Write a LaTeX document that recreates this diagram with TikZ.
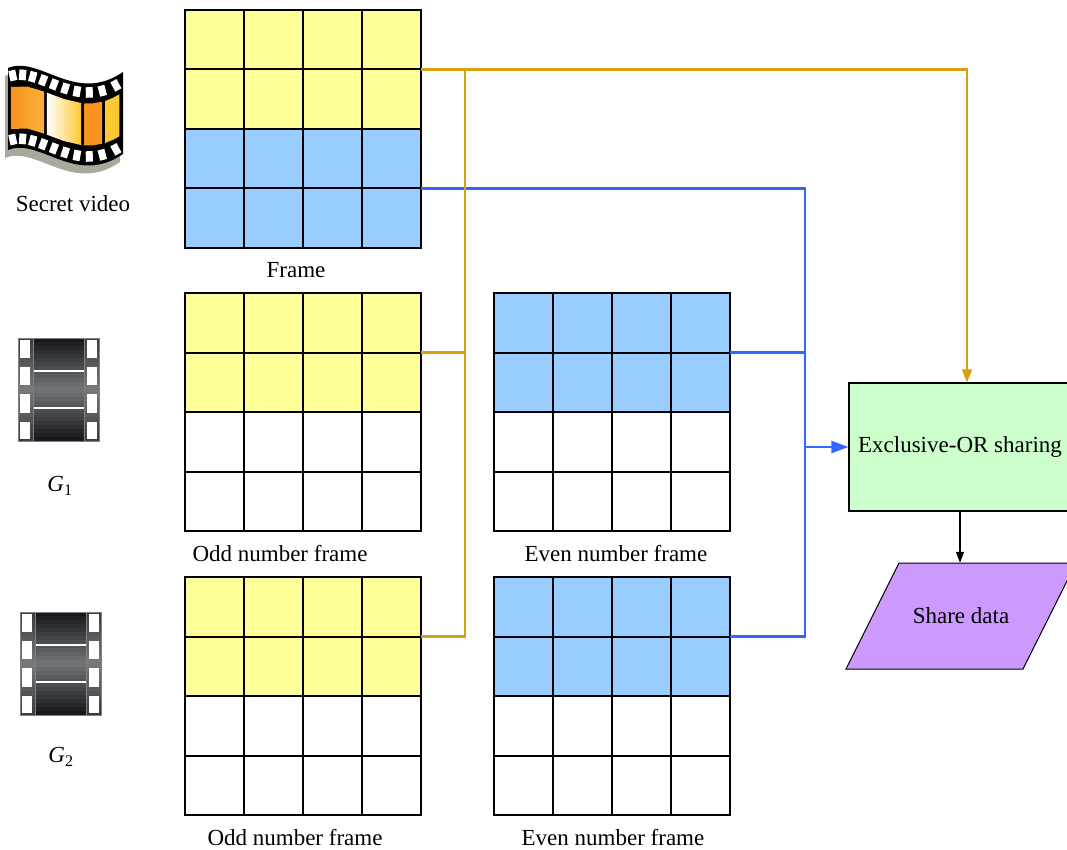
\documentclass[tikz,border=0pt]{standalone}
\usepackage{fontspec}
\setmainfont{Liberation Serif}
\usetikzlibrary{calc,arrows.meta}

\definecolor{cellyellow}{HTML}{FFFF99}
\definecolor{cellblue}{HTML}{99CCFF}
\definecolor{linkorange}{HTML}{D9A011}
\definecolor{linkblue}{HTML}{3366FF}
\definecolor{xorgreen}{HTML}{CCFFCC}
\definecolor{sharepurple}{HTML}{CC99FF}
\definecolor{iconorange}{HTML}{F7931E}
\definecolor{iconorangeL}{HTML}{FBB03B}
\definecolor{iconyellow}{HTML}{FDC830}
\definecolor{shadowgray}{HTML}{A9A99B}
\definecolor{reeldark}{HTML}{16181D}
\definecolor{reelmid}{HTML}{74777A}
\definecolor{sidedark}{HTML}{3A3B3D}
\definecolor{sidemid}{HTML}{7A7B7D}

\tikzset{
  txt/.style={font=\fontsize{23}{27}\selectfont, inner sep=0pt},
  gridframe/.style={minimum width=236pt, minimum height=238pt, inner sep=0pt, outer sep=0pt},
  gridline/.style={draw=black, line width=2pt},
  orangelink/.style={draw=linkorange, line width=2.4pt},
  bluelink/.style={draw=linkblue, line width=2.4pt},
  hole/.style={fill=white, minimum width=7pt, minimum height=10.5pt, inner sep=0pt},
}

% one 4x4 video frame: name, left x, top y, colour of upper half, colour of lower half
\newcommand\videoframe[5]{%
  \node[gridframe] (#1) at (#2+118,#3+119) {};
  \fill[#4] (#1.north west) rectangle (#1.east);
  \fill[#5] (#1.west) rectangle (#1.south east);
  \foreach \k in {1,2,3}{
    \draw[gridline] ($(#1.north west)!\k/4!(#1.north east)$) -- ($(#1.south west)!\k/4!(#1.south east)$);
    \draw[gridline] ($(#1.north west)!\k/4!(#1.south west)$) -- ($(#1.north east)!\k/4!(#1.south east)$);
  }
  \draw[gridline] (#1.north west) rectangle (#1.south east);
  \coordinate (#1-r1) at ($(#1.north east)!0.25!(#1.south east)$);
  \coordinate (#1-r3) at ($(#1.north east)!0.75!(#1.south east)$);
}

% dark film reel icon: left x, top y; the metal sheen is built from thin bands
\newcommand\reelicon[2]{%
  \begin{scope}[shift={(#1,#2)}]
    \foreach \i in {0,...,25}{
      \pgfmathsetmacro\shade{100*abs(\i-12.5)/12.5}
      \fill[sidedark!\shade!sidemid] (0,\i*103/26) rectangle (81,\i*103/26+4.3);
      \fill[reeldark!\shade!reelmid] (15,\i*103/26) rectangle (66,\i*103/26+4.3);
    }
    \foreach \ya/\yb in {2/20, 29/47, 56/75, 84/101}{
      \fill[white] (2,\ya) rectangle (12,\yb);
      \fill[white] (69,\ya) rectangle (79,\yb);
    }
    \draw[white, line width=1.6pt] (15,33) -- (66,33) (15,70) -- (66,70);
    \draw[gray, line width=0.8pt] (0,0) rectangle (81,103) (15,0) -- (15,103) (66,0) -- (66,103);
  \end{scope}
}

\begin{document}
\begin{tikzpicture}[x=1pt, y=-1pt]
\useasboundingbox (0,0) rectangle (1067,850);

% ---- secret video icon: a waving film strip ----
\fill[shadowgray] (5,76) .. controls (37,63) and (72,113) .. (120,80) -- (120,162)
  .. controls (72,195) and (37,145) .. (5,158) -- cycle;
\fill[black] (8,68) .. controls (40,55) and (75,105) .. (123,72) -- (123,154)
  .. controls (75,187) and (40,137) .. (8,150) -- cycle;
\foreach \t in {0.05,0.15,0.25,0.35,0.45,0.55,0.65,0.75,0.85,0.95}{
  \path (8,77) .. controls (40,64) and (75,114) .. (123,81) node[hole, pos=\t, sloped] {};
  \path (8,141) .. controls (40,128) and (75,178) .. (123,145) node[hole, pos=\t, sloped] {};
}
\foreach \a/\m/\b/\ca/\cb in {0.03/0.195/0.36/iconorange/iconorangeL,
                              0.385/0.535/0.685/white/iconyellow,
                              0.71/0.78/0.85/iconorange/iconorange,
                              0.875/0.925/0.975/iconyellow/iconyellow}{
  \path (8,88) .. controls (40,75) and (75,125) .. (123,92)
    coordinate[pos=\a] (p1) coordinate[pos=\m] (p2) coordinate[pos=\b] (p3);
  \path (8,130) .. controls (40,117) and (75,167) .. (123,134)
    coordinate[pos=\a] (q1) coordinate[pos=\m] (q2) coordinate[pos=\b] (q3);
  \fill[left color=\ca, right color=\cb] (p1) -- (p2) -- (p3) -- (q3) -- (q2) -- (q1) -- cycle;
}
\node[txt] (secret) at (73,204) {Secret video};

% ---- the two reel icons ----
\reelicon{18}{338}
\node[txt] (g1) at (60,486) {\textit{G}\textsubscript{1}};
\reelicon{20}{612}
\node[txt] (g2) at (61,757) {\textit{G}\textsubscript{2}};

% ---- frames ----
\videoframe{frame}{185}{10}{cellyellow}{cellblue}
\node[txt] (frameLbl) at (296,270) {Frame};
\videoframe{oddA}{185}{293}{cellyellow}{white}
\videoframe{evenA}{494}{293}{cellblue}{white}
\node[txt] (oddAlbl) at (280,554) {Odd number frame};
\node[txt] (evenAlbl) at (616,554) {Even number frame};
\videoframe{oddB}{185}{577}{cellyellow}{white}
\videoframe{evenB}{494}{577}{cellblue}{white}
\node[txt] (oddBlbl) at (295,838) {Odd number frame};
\node[txt] (evenBlbl) at (613,838) {Even number frame};

% ---- sharing stage ----
\node[txt, draw=black, line width=1.2pt, fill=xorgreen, minimum width=222pt, minimum height=128pt]
  (xor) at (960,447) {Exclusive-OR sharing};
\fill[sharepurple, draw=black, line width=1pt] (899,563) -- (1076,563) -- (1023,669) -- (846,669) -- cycle;
\node[txt, minimum width=177pt, minimum height=106pt] (share) at (961,616) {Share data};
\draw[line width=1.2pt, -{Triangle[length=11pt,width=8pt]}] (xor.south) -- (xor.south |- share.north);

% ---- connectors ----
\coordinate (orangeX) at (967,0);
\coordinate (orangeBus) at (465,0);
\coordinate (blueBus) at (805,0);

\draw[bluelink] (frame-r3) -| (evenB-r1 -| blueBus) -- (evenB-r1);
\draw[bluelink] (evenA-r1) -- (evenA-r1 -| blueBus);
\draw[bluelink, -{Triangle[length=17pt,width=12pt]}] (xor.west -| blueBus) -- (xor.west);

\draw[orangelink, -{Triangle[length=13pt,width=10pt]}] (frame-r1) -| (xor.north -| orangeX);
\draw[orangelink] (oddB-r1) -| (frame-r1 -| orangeBus);
\draw[orangelink] (oddA-r1) -- (oddA-r1 -| orangeBus);
\end{tikzpicture}
\end{document}
